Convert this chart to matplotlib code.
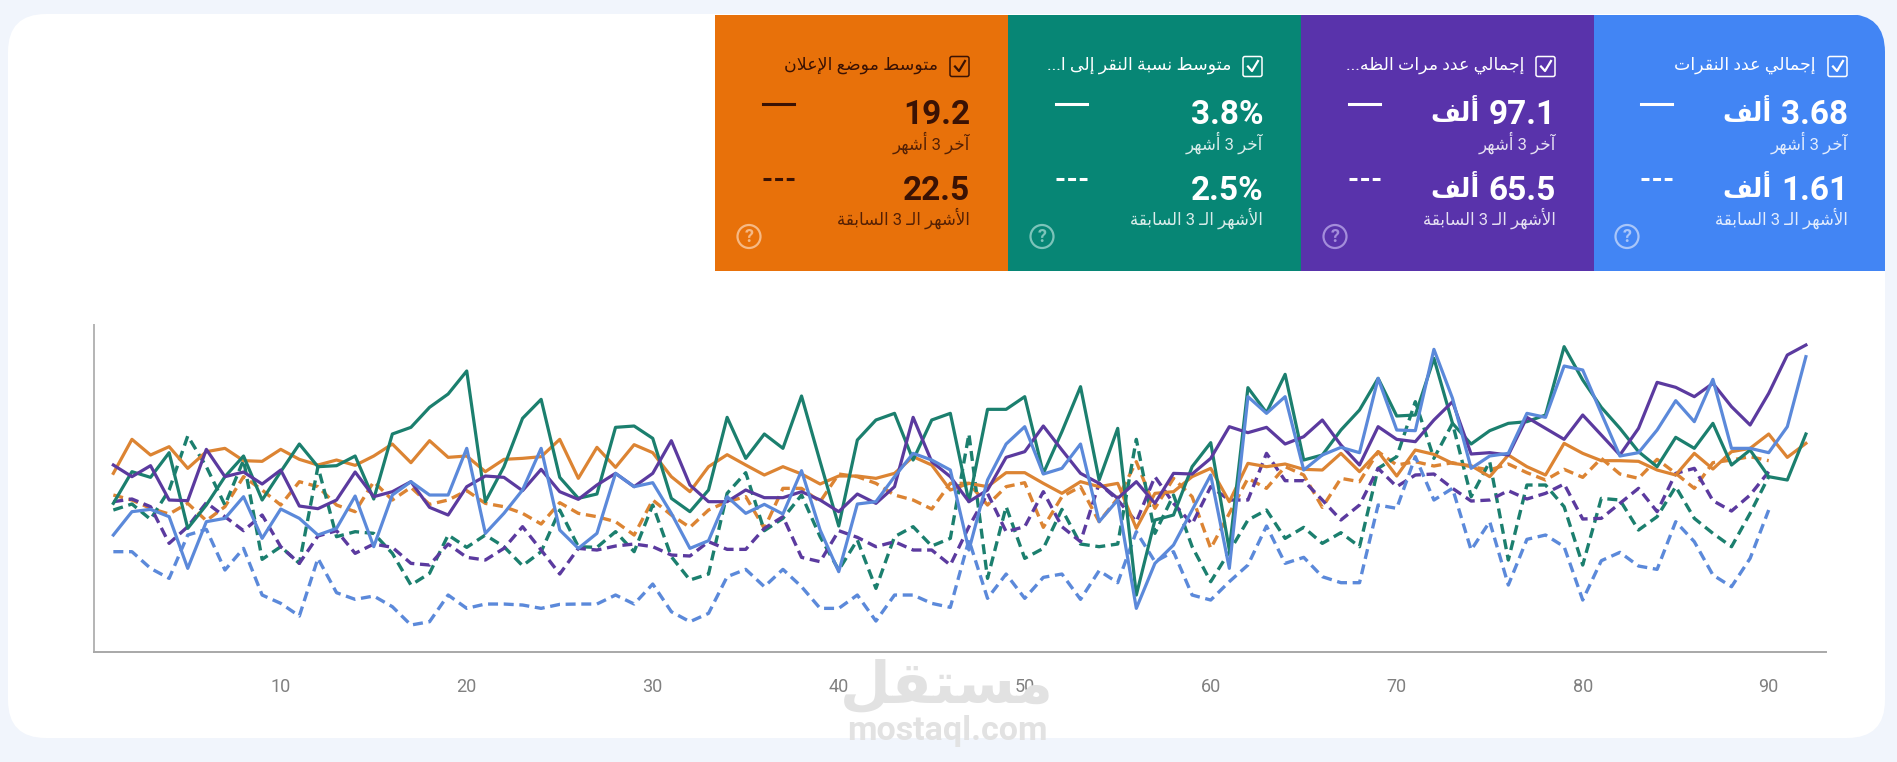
import matplotlib
matplotlib.use('Agg')
from matplotlib import pyplot as plt
from matplotlib.patches import FancyBboxPatch, Rectangle, Circle

plt.rcParams['font.family'] = ['Roboto', 'DejaVu Sans']

# Data (the chart has no y scale, values are read as height above the axis)
orange_now = [535,637,590,615,550,600,610,573,571,607,577,560,575,559,587,623,567,633,583,587,540,577,580,
              585,637,520,613,553,621,597,525,480,555,591,560,530,555,533,503,527,527,520,535,585,560,485,
              505,495,537,537,505,475,510,495,505,370,475,480,525,550,450,565,555,563,547,545,595,540,
              600,527,605,592,565,558,525,590,555,530,625,595,573,573,571,545,530,595,548,600,610,653,583,625]
green_now = [445,540,523,597,370,440,525,587,455,540,623,555,558,587,458,653,673,733,773,842,450,555,700,
             757,523,460,473,673,677,640,460,420,485,703,580,653,610,767,570,377,635,695,715,575,695,715,
             450,727,727,765,535,660,795,515,670,170,395,410,555,627,305,792,717,832,575,590,665,725,
             820,707,710,880,685,623,663,685,690,710,915,815,733,670,600,555,643,610,685,560,605,525,515,653]
purple_now = [560,525,558,455,453,607,525,539,503,545,437,429,455,539,465,480,510,433,410,495,527,523,483,
              547,480,457,500,535,495,535,633,500,450,450,485,462,462,480,455,420,473,445,495,703,570,525,
              450,485,583,600,677,605,535,505,460,510,445,535,533,580,675,657,673,623,645,695,620,560,
              675,637,630,695,750,593,597,590,703,670,637,710,650,590,670,808,793,765,805,735,680,775,890,920]
blue_now = [350,420,427,405,250,390,400,465,340,428,400,350,370,467,315,470,510,470,470,610,355,415,485,
            610,365,310,355,535,495,507,415,310,333,465,415,442,413,543,365,240,443,450,525,595,575,545,
            305,515,623,675,533,550,623,390,455,130,265,320,425,530,250,765,715,765,545,590,613,597,
            820,665,663,907,760,550,587,595,715,703,857,845,715,587,597,665,753,690,817,610,610,597,675,885]

orange_prev = [470,455,430,413,445,393,435,525,485,440,510,495,440,420,510,455,493,442,455,483,445,435,415,
               383,447,415,405,390,350,455,410,373,425,450,465,370,490,490,450,533,525,505,470,455,428,505,
               505,440,495,507,373,465,495,390,460,570,430,520,465,310,415,520,490,555,530,433,520,510,
               600,560,570,557,567,555,545,563,537,515,547,523,580,533,520,577,535,490,567,575,585,573]
green_prev = [425,443,397,485,647,555,440,575,277,315,265,555,345,360,355,295,200,235,350,313,350,315,258,
              300,425,315,313,360,300,440,285,215,233,475,537,363,400,470,345,245,335,190,345,375,317,340,
              653,220,435,280,310,427,323,315,323,637,355,470,315,210,300,395,425,340,373,325,357,315,
              550,585,750,580,685,465,570,275,500,500,435,260,460,455,365,405,495,400,355,315,415,525]
purple_prev = [450,458,435,325,375,447,405,363,410,315,265,347,363,295,323,313,265,260,323,283,275,310,375,
               305,233,310,305,317,323,315,290,287,330,307,307,370,405,283,270,363,343,315,330,305,305,260,
               375,475,360,375,480,375,330,505,455,390,525,445,383,495,455,455,595,513,513,455,395,440,
               550,495,530,533,490,452,455,483,458,475,503,398,400,445,490,420,535,550,453,422,470,540]
blue_prev = [300,300,250,220,350,367,245,310,170,145,107,280,177,157,167,135,80,90,170,130,143,143,140,
             130,142,143,143,170,143,203,120,90,115,225,247,195,247,195,130,130,170,92,170,170,145,133,
             335,160,233,160,223,233,157,243,207,360,270,300,170,155,210,260,377,265,283,225,207,207,
             440,430,585,455,490,305,390,200,337,350,315,155,273,298,257,247,390,330,230,195,280,425]

days = list(range(1, 93))
x_ticks = [10, 20, 30, 40, 50, 60, 70, 80, 90]

card_titles = ['إجمالي عدد النقرات', 'إجمالي عدد مرات الظه...', 'متوسط نسبة النقر إلى ا...', 'متوسط موضع الإعلان']
card_now = ['3.68', '97.1', '3.8%', '19.2']
card_prev = ['1.61', '65.5', '2.5%', '22.5']
card_unit = ['ألف', 'ألف', '', '']
label_now = 'آخر 3 أشهر'
label_prev = 'الأشهر الـ 3 السابقة'

card_colors = ['#4285f4', '#5933ab', '#078675', '#e8710a']
card_left = [1593, 1301, 1008, 715]
card_ink = ['white', 'white', 'white', '#3a1204']
help_ink = ['#a9c6f9', '#a48ddb', '#7cc4ba', '#f6b985']

line_orange = '#dc8433'
line_green = '#1b7f6e'
line_purple = '#5b3a9f'
line_blue = '#5b89da'

# matplotlib does no arabic shaping, so pick the presentation forms by hand
forms = {
    'ا': (0xFE8D, 0xFE8E), 'أ': (0xFE83, 0xFE84), 'إ': (0xFE87, 0xFE88), 'آ': (0xFE81, 0xFE82),
    'ة': (0xFE93, 0xFE94), 'د': (0xFEA9, 0xFEAA), 'ر': (0xFEAD, 0xFEAE), 'و': (0xFEED, 0xFEEE),
    'ى': (0xFEEF, 0xFEF0),
    'ب': (0xFE8F, 0xFE90, 0xFE91, 0xFE92), 'ت': (0xFE95, 0xFE96, 0xFE97, 0xFE98),
    'ج': (0xFE9D, 0xFE9E, 0xFE9F, 0xFEA0), 'خ': (0xFEA5, 0xFEA6, 0xFEA7, 0xFEA8),
    'س': (0xFEB1, 0xFEB2, 0xFEB3, 0xFEB4), 'ش': (0xFEB5, 0xFEB6, 0xFEB7, 0xFEB8),
    'ض': (0xFEBD, 0xFEBE, 0xFEBF, 0xFEC0), 'ط': (0xFEC1, 0xFEC2, 0xFEC3, 0xFEC4),
    'ظ': (0xFEC5, 0xFEC6, 0xFEC7, 0xFEC8), 'ع': (0xFEC9, 0xFECA, 0xFECB, 0xFECC),
    'ف': (0xFED1, 0xFED2, 0xFED3, 0xFED4), 'ق': (0xFED5, 0xFED6, 0xFED7, 0xFED8),
    'ل': (0xFEDD, 0xFEDE, 0xFEDF, 0xFEE0), 'م': (0xFEE1, 0xFEE2, 0xFEE3, 0xFEE4),
    'ن': (0xFEE5, 0xFEE6, 0xFEE7, 0xFEE8), 'ه': (0xFEE9, 0xFEEA, 0xFEEB, 0xFEEC),
    'ي': (0xFEF1, 0xFEF2, 0xFEF3, 0xFEF4),
}
lam_alef = {'ا': (0xFEFB, 0xFEFC), 'أ': (0xFEF7, 0xFEF8), 'إ': (0xFEF9, 0xFEFA), 'آ': (0xFEF5, 0xFEF6)}
KASHIDA = 'ـ'


def shape_word(word):
    out = []
    joins = False
    i = 0
    while i < len(word):
        c = word[i]
        nxt = word[i + 1] if i + 1 < len(word) else ''
        if c == 'ل' and nxt in lam_alef and nxt:
            out.append(chr(lam_alef[nxt][1 if joins else 0]))
            joins = False
            i += 2
            continue
        if c == KASHIDA:
            out.append(c)
            joins = True
        elif c in forms:
            f = forms[c]
            next_ok = nxt in forms or nxt == KASHIDA
            if len(f) == 2:
                out.append(chr(f[1 if joins else 0]))
                joins = False
            else:
                if joins and next_ok:
                    out.append(chr(f[3]))
                elif joins:
                    out.append(chr(f[1]))
                elif next_ok:
                    out.append(chr(f[2]))
                else:
                    out.append(chr(f[0]))
                joins = next_ok
        else:
            out.append(c)
            joins = False
        i += 1
    return ''.join(out[::-1])


def ar(text):
    words = []
    for w in text.split(' '):
        if any(c in forms for c in w):
            words.append(shape_word(w))
        else:
            words.append(w)
    return ' '.join(words[::-1])


fig = plt.figure(figsize=(18.97, 7.62), dpi=100, facecolor='#f1f5fc')
renderer = fig.canvas.get_renderer()

# Page furniture is laid out in pixels of the figure
bg = fig.add_axes([0, 0, 1, 1])
bg.set_xlim(0, 1897)
bg.set_ylim(762, 0)
bg.axis('off')

sheet = FancyBboxPatch((48, 54), 1797, 644, boxstyle='round,pad=0,rounding_size=0.1',
                       fc='white', ec='none')
sheet.set_boxstyle('round', pad=40, rounding_size=38)
bg.add_patch(sheet)


def big_value(right, y, value, unit, ink):
    t = bg.text(right, y, value, color=ink, fontsize=24, fontweight='bold', ha='right', va='center')
    if unit:
        left_px = t.get_window_extent(renderer).x0
        bg.text(left_px - 9, y - 3, ar(unit), color=ink, fontsize=18.5, fontweight='bold',
                ha='right', va='center')


for i in range(4):
    left = card_left[i]
    ink = card_ink[i]
    right = left + 255
    card = Rectangle((left, 14.5), 292.5, 256.5, fc=card_colors[i], ec='none')
    bg.add_patch(card)
    card.set_clip_path(sheet)

    bg.add_patch(FancyBboxPatch((right - 20, 56.5), 19, 20, boxstyle='round,pad=0,rounding_size=2',
                                fc='none', ec=ink, lw=1.1))
    bg.plot([right - 15, right - 11, right - 5], [66.5, 71, 61], color=ink, lw=1.6)
    bg.text(right - 32, 65, ar(card_titles[i]), color=ink, fontsize=12.5, ha='right', va='center')

    big_value(right, 115, card_now[i], card_unit[i], ink)
    bg.text(right, 143, ar(label_now), color=ink, fontsize=12, ha='right', va='center', alpha=0.85)
    big_value(right, 191, card_prev[i], card_unit[i], ink)
    bg.text(right, 218, ar(label_prev), color=ink, fontsize=12, ha='right', va='center', alpha=0.85)

    bg.plot([left + 48, left + 79], [104, 104], color=ink, lw=2.2)
    bg.plot([left + 48, left + 79], [179, 179], color=ink, lw=2.2, dashes=(2.6, 1.2))

    bg.add_patch(Circle((left + 34, 236.5), 11.5, fc='none', ec=help_ink[i], lw=1.6))
    bg.text(left + 34, 237, '?', color=help_ink[i], fontsize=13, fontweight='bold', ha='center', va='center')

# Chart
ax = fig.add_axes([94 / 1897, 1 - 651.7 / 762, (1826 - 94) / 1897, (651.7 - 325) / 762])
ax.patch.set_alpha(0)

dash = (0, (3.0, 1.7))
ax.plot(days[:len(orange_prev)], orange_prev, color=line_orange, lw=2.4, ls=dash)
ax.plot(days[:len(green_prev)], green_prev, color=line_green, lw=2.4, ls=dash)
ax.plot(days[:len(purple_prev)], purple_prev, color=line_purple, lw=2.4, ls=dash)
ax.plot(days[:len(blue_prev)], blue_prev, color=line_blue, lw=2.4, ls=dash)
ax.plot(days, orange_now, color=line_orange, lw=2.3)
ax.plot(days, green_now, color=line_green, lw=2.3)
ax.plot(days, purple_now, color=line_purple, lw=2.3)
ax.plot(days, blue_now, color=line_blue, lw=2.3)

ax.set_xlim(-0.04, 93.08)
ax.set_ylim(0, 980)
ax.set_xticks(x_ticks)
ax.set_yticks([])
ax.tick_params(axis='x', length=0, pad=19, labelsize=13, labelcolor='#808080')
ax.spines['top'].set_visible(False)
ax.spines['right'].set_visible(False)
ax.spines['left'].set_color('#b4b4b4')
ax.spines['bottom'].set_color('#a8a8a8')
ax.spines['left'].set_linewidth(1.4)
ax.spines['bottom'].set_linewidth(1.4)

# Watermark sits above everything
fig.text(947 / 1897, 1 - 686 / 762, ar('مستقل'), color='#e2e2e2', fontsize=42, fontweight='bold',
         ha='center', va='center', family=['DejaVu Sans'])
fig.text(947 / 1897, 1 - 731 / 762, 'mostaql.com', color='#e2e2e2', fontsize=24.5, fontweight='bold',
         ha='center', va='center', family=['Roboto'])

plt.savefig('out.png', dpi=100, facecolor=fig.get_facecolor())
